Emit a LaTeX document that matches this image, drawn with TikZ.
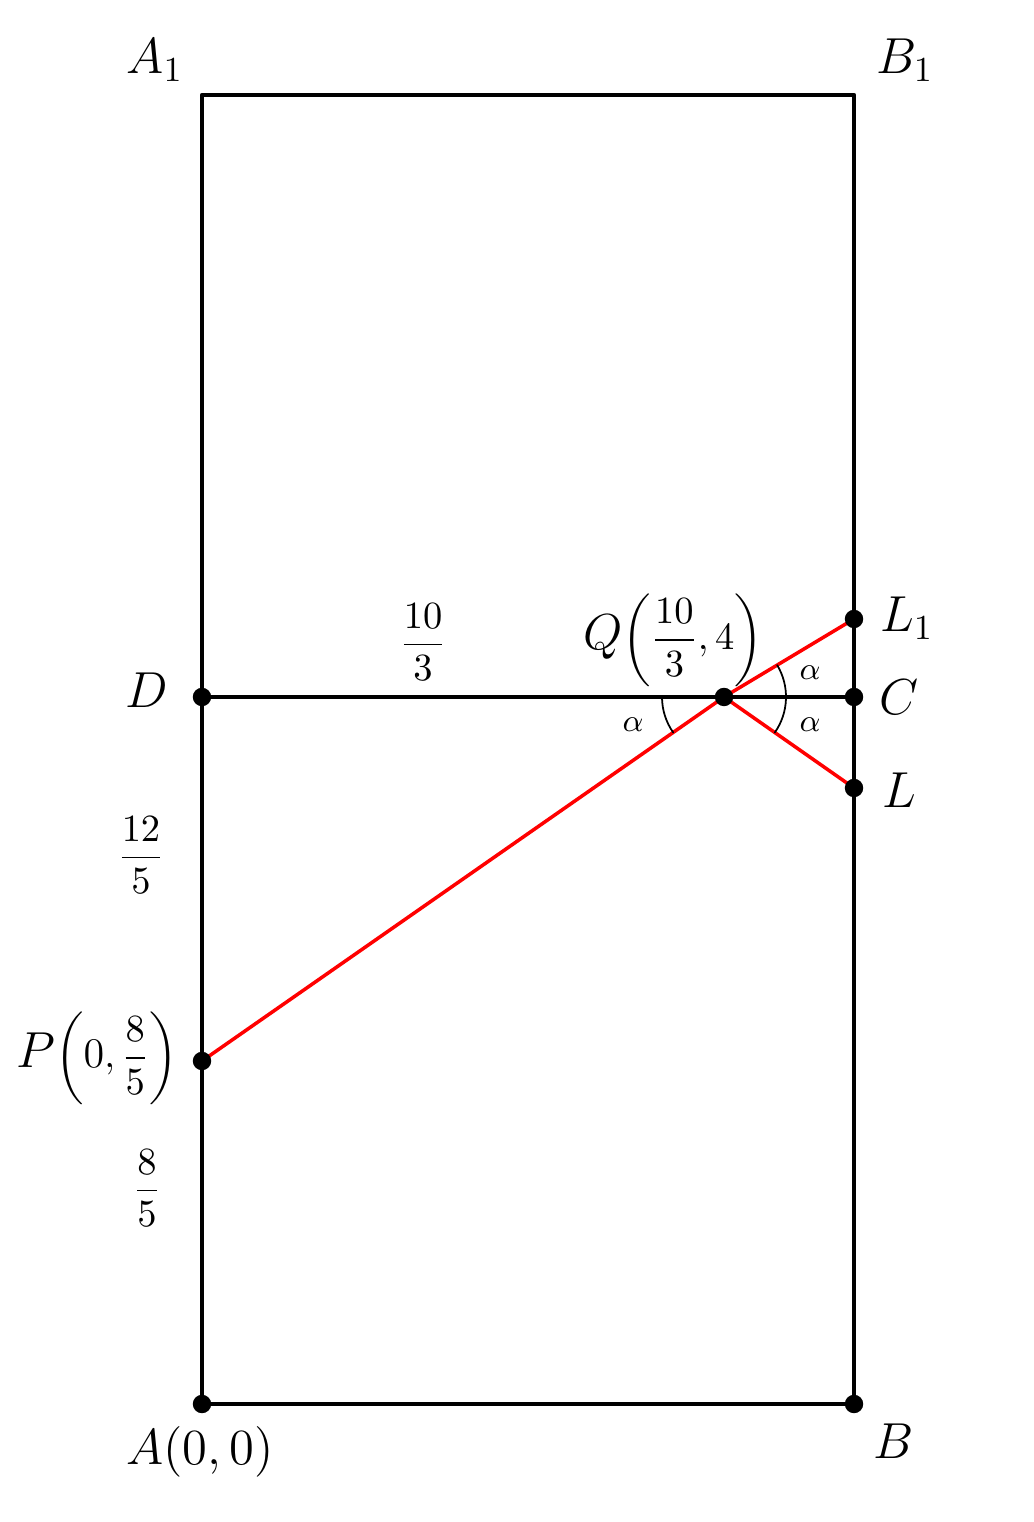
\documentclass[tikz,border=0pt]{standalone}
\usepackage{amsmath}
\usepackage{amssymb}
\usetikzlibrary{calc}

\begin{document}
\begin{tikzpicture}[line cap=round,line join=round]
	\path [use as bounding box] (-2.02,-1.18) rectangle (8.31,14.04);
	\tikzstyle{bullet} = [circle, fill, draw, inner sep=0pt, minimum size=0.17cm]
	\tikzstyle{edge} = [line width=1.3pt]
	\tikzstyle{ray} = [line width=1pt, red]
	\tikzstyle{lbl} = [font=\Large]
	\tikzstyle{numlbl} = [font=\fontsize{11}{13}\selectfont]
	\tikzstyle{ang} = [font=\small]
	\coordinate (A) at (0,0);
	\coordinate (B) at (6.52,0);
	\coordinate (C) at (6.52,7.07);
	\coordinate (D) at (0,7.07);
	\coordinate (A1) at (0,13.09);
	\coordinate (B1) at (6.52,13.09);
	\coordinate (P) at (0,3.43);
	\coordinate (Q) at (5.22,7.07);
	\coordinate (L1) at (6.52,7.85);
	\coordinate (L) at (6.52,6.16);
	% rectangle and middle line
	\draw[edge] (A) -- (B) -- (B1) -- (A1) -- cycle;
	\draw[edge] (D) -- (C);
	% reflected ray
	\draw[ray] (P) -- (Q) -- (L1);
	\draw[ray] (Q) -- (L);
	% angles at Q
	\draw[line width=0.5pt] ($(Q)+(180:0.62)$) arc[start angle=180, end angle=215, radius=0.62];
	\draw[line width=0.5pt] ($(Q)+(-35:0.62)$) arc[start angle=-35, end angle=31, radius=0.62];
	\node[bullet] (nA) at (A) {};
	\node[bullet] (nB) at (B) {};
	\node[bullet] (nC) at (C) {};
	\node[bullet] (nD) at (D) {};
	\node[bullet] (nP) at (P) {};
	\node[bullet] (nQ) at (Q) {};
	\node[bullet] (nL1) at (L1) {};
	\node[bullet] (nL) at (L) {};
	% labels
	\node[lbl] (lA1) at ($(A1)+(-0.47,0.35)$) {$A_1$};
	\node[lbl] (lB1) at ($(B1)+(0.51,0.35)$) {$B_1$};
	\node[lbl] (lD) at ($(D)+(-0.55,0.07)$) {$D$};
	\node[lbl] (lC) at ($(C)+(0.45,0)$) {$C$};
	\node[lbl] (lL1) at ($(L1)+(0.53,0.01)$) {$L_1$};
	\node[lbl] (lL) at ($(L)+(0.45,-0.02)$) {$L$};
	\node[lbl] (lB) at ($(B)+(0.4,-0.37)$) {$B$};
	\node[lbl] (lA) at ($(A)+(-0.02,-0.48)$) {$A(0,0)$};
	\node[numlbl, anchor=east] (lP) at ($(P)+(-0.12,0.03)$) {{\Large$P$}$\left(\text{\large$0$},\dfrac{8}{5}\right)$};
	\node[numlbl] (lQ) at ($(Q)+(-0.51,0.57)$) {{\Large$Q$}$\left(\dfrac{10}{3},4\right)$};
	\node[numlbl] (lDQ) at ($(D)+(2.21,0.55)$) {$\dfrac{10}{3}$};
	\node[numlbl] (lPD) at ($(D)+(-0.61,-1.58)$) {$\dfrac{12}{5}$};
	\node[numlbl] (lAP) at ($(A)+(-0.55,2.16)$) {$\dfrac{8}{5}$};
	\node[ang] (a1) at ($(Q)+(-0.91,-0.28)$) {$\alpha$};
	\node[ang] (a2) at ($(Q)+(0.86,0.24)$) {$\alpha$};
	\node[ang] (a3) at ($(Q)+(0.86,-0.28)$) {$\alpha$};
\end{tikzpicture}
\end{document}
